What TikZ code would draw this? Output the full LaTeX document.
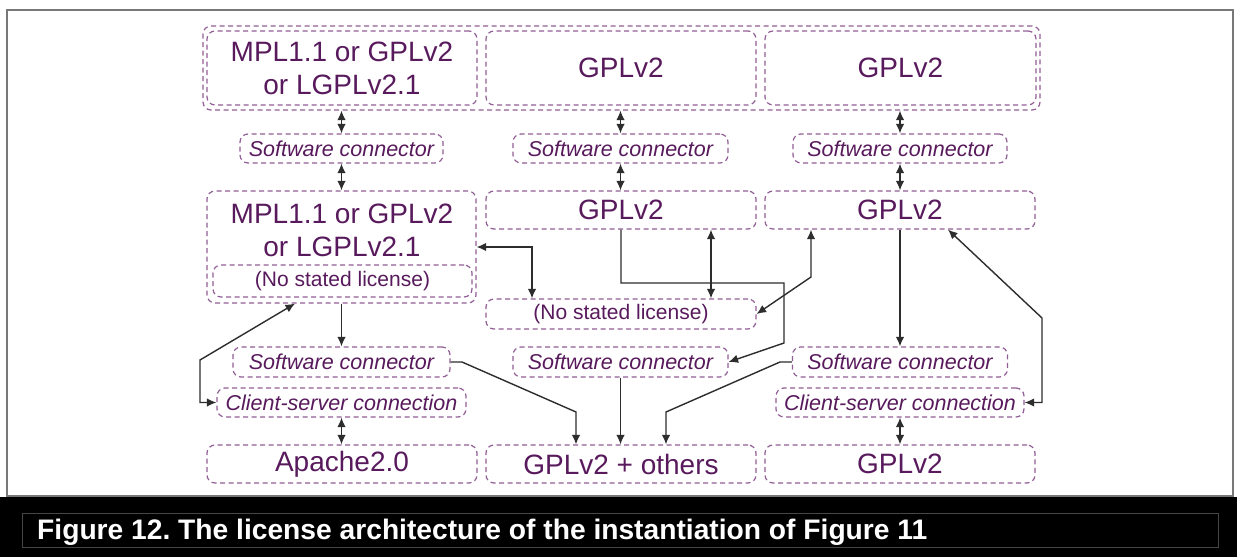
\documentclass[tikz,border=0pt]{standalone}
\usepackage{fontspec}
\setmainfont{Liberation Sans}
\usetikzlibrary{arrows.meta}
\definecolor{lic}{RGB}{88,26,92}
\definecolor{dashc}{RGB}{145,95,150}
\definecolor{wire}{RGB}{45,45,45}
\definecolor{framec}{RGB}{120,120,120}
\definecolor{bandline}{RGB}{70,70,70}
\frenchspacing
\begin{document}
\begin{tikzpicture}[x=1pt,y=-1pt,
  box/.style={draw=dashc, dash pattern=on 5pt off 3.5pt, line width=1.2pt,
    rounded corners=8pt, text=lic, inner sep=0pt, align=center,
    font=\fontsize{28}{33}\selectfont},
  conn/.style={box, font=\itshape\fontsize{21.5}{24}\selectfont},
  small/.style={box, font=\fontsize{21}{24}\selectfont},
  plain/.style={text=lic, inner sep=0pt, align=center, font=\fontsize{28}{33}\selectfont},
  wirestyle/.style={draw=wire, line width=1.4pt},
  one/.style={wirestyle, -{Latex[length=9.5pt,width=8.5pt]}},
  two/.style={wirestyle, {Latex[length=9.5pt,width=8.5pt]}-{Latex[length=9.5pt,width=8.5pt]}}
]
\useasboundingbox (0,0) rectangle (1237,557);
\fill[white] (0,0) rectangle (1237,557);
\fill[black] (0,497) rectangle (1237,557);
\draw[framec, line width=2pt] (7,10) rectangle (1233,496);
\draw[bandline, line width=1pt] (22,513) rectangle (1218,547);
\node[anchor=base west, text=white, inner sep=0pt,
  font=\bfseries\fontsize{28.2}{30}\selectfont] (cap) at (37,539)
  {Figure 12. The license architecture of the instantiation of Figure 11};

% top group
\node[box, minimum width=837pt, minimum height=84pt] (gtop) at (621.5,68) {};
\node[box, minimum width=270pt, minimum height=74pt] (a1) at (342,68) {MPL1.1 or GPLv2\\or LGPLv2.1};
\node[box, minimum width=270pt, minimum height=74pt] (b1) at (621,68) {GPLv2};
\node[box, minimum width=271pt, minimum height=74pt] (c1) at (900.5,68) {GPLv2};

% software connectors row 1
\node[conn, minimum width=203pt, minimum height=29pt] (sa) at (341.5,148.5) {Software connector};
\node[conn, minimum width=215pt, minimum height=29pt] (sb) at (620.5,148.5) {Software connector};
\node[conn, minimum width=214pt, minimum height=29pt] (sc) at (900,148.5) {Software connector};

% row 2
\node[box, minimum width=269pt, minimum height=112pt] (a2) at (341.5,247) {};
\node[plain] (a2t) at (342,230) {MPL1.1 or GPLv2\\or LGPLv2.1};
\node[small, minimum width=259pt, minimum height=32pt] (a2n) at (342.5,281) {(No stated license)};
\node[box, minimum width=270pt, minimum height=38pt] (b2) at (621,210) {GPLv2};
\node[box, minimum width=270pt, minimum height=38pt] (c2) at (900,210) {GPLv2};

% no stated license
\node[small, minimum width=270pt, minimum height=30pt] (nsl) at (621,314) {(No stated license)};

% software connectors row 4
\node[conn, minimum width=217pt, minimum height=30pt] (s4a) at (341.5,362) {Software connector};
\node[conn, minimum width=215pt, minimum height=30pt] (s4b) at (620.5,362) {Software connector};
\node[conn, minimum width=215pt, minimum height=30pt] (s4c) at (900,362) {Software connector};

% client-server
\node[conn, minimum width=249pt, minimum height=29pt] (csa) at (341.5,402.5) {Client-server connection};
\node[conn, minimum width=248pt, minimum height=29pt] (csc) at (900,402.5) {Client-server connection};

% bottom row
\node[box, minimum width=270pt, minimum height=38pt] (ap) at (342,464) {Apache2.0};
\node[box, minimum width=270pt, minimum height=38pt] (go) at (621,464) {GPLv2 + others};
\node[box, minimum width=270pt, minimum height=38pt] (gc) at (900,464) {GPLv2};

% connectors
\draw[two] (sa.north |- gtop.south) -- (sa.north);
\draw[two] (sb.north |- gtop.south) -- (sb.north);
\draw[two] (sc.north |- gtop.south) -- (sc.north);
\draw[two] (sa.south) -- (sa.south |- a2.north);
\draw[two] (sb.south) -- (sb.south |- b2.north);
\draw[two] (sc.south) -- (sc.south |- c2.north);

\draw[one] (a2.south) -- (a2.south |- s4a.north);
\draw[two] (295,0 |- a2.south) -- (200,360) -- (200,0 |- csa.west) -- (csa.west);
\draw[two] (a2.east) -- (532,0 |- a2.east) -- (532,0 |- nsl.north);
\draw[two] (711,0 |- b2.south) -- (711,0 |- nsl.north);
\draw[one] (b2.south) -- (621,283) -- (784,283) -- (784,343) -- (s4b.east);
\draw[two] (811,0 |- c2.south) -- (811,277) -- (nsl.east);
\draw[one] (c2.south) -- (c2.south |- s4c.north);
\draw[two] (948,0 |- c2.south) -- (1042,318) -- (1042,0 |- csc.east) -- (csc.east);

\draw[one] (s4a.east) -- (462,362) -- (576,412) -- (576,0 |- go.north);
\draw[one] (s4b.south) -- (s4b.south |- go.north);
\draw[one] (s4c.west) -- (780,362) -- (666,412) -- (666,0 |- go.north);

\draw[two] (csa.south) -- (csa.south |- ap.north);
\draw[two] (csc.south) -- (csc.south |- gc.north);
\end{tikzpicture}
\end{document}
